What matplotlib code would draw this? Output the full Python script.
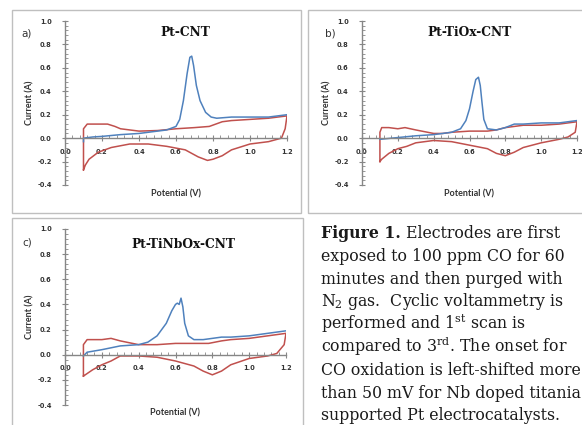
import numpy as np
import matplotlib
matplotlib.use("Agg")
import matplotlib.pyplot as plt
from matplotlib.ticker import MultipleLocator, FormatStrFormatter
from matplotlib.patches import Rectangle

W, H = 582, 425

# ---- data (potential V, current A) ----
# Pt-CNT
a_red_v = [0.10, 0.10, 0.12, 0.18, 0.23, 0.27, 0.30, 0.40, 0.50, 0.60, 0.70, 0.78, 0.85, 0.90, 1.00, 1.10, 1.20,
           1.19, 1.17, 1.10, 1.00, 0.90, 0.85, 0.80, 0.77, 0.72, 0.65, 0.55, 0.45, 0.35, 0.25, 0.18, 0.13, 0.11, 0.10]
a_red_i = [-0.27, 0.08, 0.12, 0.12, 0.12, 0.10, 0.08, 0.06, 0.065, 0.08, 0.09, 0.10, 0.14, 0.15, 0.16, 0.17, 0.19,
           0.08, 0.00, -0.03, -0.05, -0.10, -0.15, -0.18, -0.19, -0.16, -0.10, -0.07, -0.05, -0.05, -0.08, -0.12, -0.18, -0.23, -0.27]
a_blue_v = [0.10, 0.10, 0.15, 0.20, 0.30, 0.40, 0.50, 0.55, 0.60, 0.62, 0.64, 0.66, 0.675, 0.685, 0.695, 0.71, 0.73, 0.76, 0.79, 0.82, 0.90, 1.00, 1.10, 1.20]
a_blue_i = [-0.03, 0.00, 0.01, 0.015, 0.03, 0.04, 0.06, 0.07, 0.10, 0.16, 0.32, 0.55, 0.69, 0.70, 0.62, 0.45, 0.32, 0.22, 0.18, 0.17, 0.18, 0.18, 0.18, 0.20]

# Pt-TiOx-CNT
b_red_v = [0.10, 0.10, 0.11, 0.15, 0.20, 0.24, 0.30, 0.40, 0.45, 0.50, 0.60, 0.70, 0.75, 0.80, 0.85, 0.90, 1.00, 1.10, 1.20,
           1.19, 1.15, 1.10, 1.00, 0.90, 0.85, 0.80, 0.75, 0.70, 0.60, 0.50, 0.40, 0.30, 0.25, 0.20, 0.15, 0.11, 0.10]
b_red_i = [-0.20, 0.05, 0.09, 0.09, 0.08, 0.09, 0.07, 0.04, 0.04, 0.05, 0.06, 0.06, 0.07, 0.09, 0.10, 0.11, 0.11, 0.12, 0.14,
           0.05, 0.01, -0.01, -0.04, -0.08, -0.12, -0.15, -0.13, -0.09, -0.06, -0.03, -0.02, -0.04, -0.07, -0.09, -0.13, -0.18, -0.20]
b_blue_v = [0.10, 0.20, 0.30, 0.40, 0.50, 0.55, 0.58, 0.60, 0.62, 0.635, 0.65, 0.66, 0.67, 0.68, 0.70, 0.75, 0.80, 0.85, 0.90, 1.00, 1.10, 1.20]
b_blue_i = [-0.01, 0.005, 0.02, 0.03, 0.05, 0.08, 0.15, 0.25, 0.40, 0.50, 0.52, 0.45, 0.30, 0.16, 0.08, 0.07, 0.09, 0.12, 0.12, 0.13, 0.13, 0.15]

# Pt-TiNbOx-CNT
c_red_v = [0.10, 0.10, 0.12, 0.20, 0.25, 0.30, 0.40, 0.50, 0.60, 0.70, 0.78, 0.85, 0.90, 1.00, 1.10, 1.20,
           1.19, 1.15, 1.10, 1.00, 0.90, 0.85, 0.80, 0.75, 0.70, 0.60, 0.50, 0.40, 0.30, 0.25, 0.20, 0.15, 0.10]
c_red_i = [-0.17, 0.08, 0.12, 0.12, 0.13, 0.11, 0.08, 0.08, 0.09, 0.09, 0.09, 0.11, 0.12, 0.13, 0.15, 0.17,
           0.08, 0.01, -0.01, -0.03, -0.08, -0.13, -0.16, -0.13, -0.09, -0.05, -0.02, -0.01, -0.01, -0.05, -0.08, -0.12, -0.17]
c_blue_v = [0.10, 0.12, 0.20, 0.30, 0.40, 0.45, 0.50, 0.55, 0.58, 0.60, 0.61, 0.62, 0.63, 0.64, 0.65, 0.67, 0.70, 0.75, 0.80, 0.85, 0.90, 1.00, 1.10, 1.20]
c_blue_i = [-0.01, 0.02, 0.04, 0.07, 0.08, 0.10, 0.15, 0.25, 0.35, 0.40, 0.41, 0.40, 0.45, 0.38, 0.25, 0.15, 0.12, 0.12, 0.13, 0.14, 0.14, 0.15, 0.17, 0.19]

titles = ["Pt-CNT", "Pt-TiOx-CNT", "Pt-TiNbOx-CNT"]
letters = ["a)", "b)", "c)"]

caption = [
    "exposed to 100 ppm CO for 60",
    "minutes and then purged with",
    r"N$\mathregular{_2}$ gas.  Cyclic voltammetry is",
    r"performed and 1$\mathregular{^{st}}$ scan is",
    r"compared to 3$\mathregular{^{rd}}$. The onset for",
    "CO oxidation is left-shifted more",
    "than 50 mV for Nb doped titania",
    "supported Pt electrocatalysts.",
]

BLUE = "#4F81BD"
RED = "#C0504D"
GRAY = "#868686"
TXT = "#333333"

fig = plt.figure(figsize=(W / 100, H / 100), dpi=100)


def rect(l, t, r, b):
    # pixel box (from top-left) -> figure fraction
    return [l / W, 1 - b / H, (r - l) / W, (b - t) / H]


# panel borders
for l, t, r, b in [(12, 10, 301, 213), (308, 10, 590, 213), (12, 218, 303, 435)]:
    fig.patches.append(Rectangle((l / W, 1 - b / H), (r - l) / W, (b - t) / H,
                                 transform=fig.transFigure, fill=False,
                                 edgecolor="#BFBFBF", linewidth=1.0))

panels = [
    (rect(65, 21, 287, 185), a_blue_v, a_blue_i, a_red_v, a_red_i, (27, 33), (185, 33), 194),
    (rect(362, 21, 577, 185), b_blue_v, b_blue_i, b_red_v, b_red_i, (330, 33), (470, 33), 194),
    (rect(65, 229, 286, 405), c_blue_v, c_blue_i, c_red_v, c_red_i, (27, 242), (183, 244), 413),
]

for k, (pos, bv, bi, rv, ri, lpos, tpos, xl_y) in enumerate(panels):
    ax = fig.add_axes(pos)
    ax.patch.set_alpha(0)
    ax.plot(rv, ri, color=RED, lw=1.1)
    ax.plot(bv, bi, color=BLUE, lw=1.1)
    ax.set_xlim(0, 1.2)
    ax.set_ylim(-0.4, 1.0)
    for s in ["top", "right"]:
        ax.spines[s].set_visible(False)
    ax.spines["left"].set_position(("data", 0))
    ax.spines["bottom"].set_position(("data", 0))
    for s in ["left", "bottom"]:
        ax.spines[s].set_color(GRAY)
        ax.spines[s].set_linewidth(1.0)
    ax.xaxis.set_major_locator(MultipleLocator(0.2))
    ax.xaxis.set_minor_locator(MultipleLocator(0.04))
    ax.yaxis.set_major_locator(MultipleLocator(0.2))
    ax.yaxis.set_minor_locator(MultipleLocator(0.04))
    ax.xaxis.set_major_formatter(FormatStrFormatter("%.1f"))
    ax.yaxis.set_major_formatter(FormatStrFormatter("%.1f"))
    ax.tick_params(which="major", direction="inout", length=5, width=0.8, color=GRAY,
                   labelsize=4.8, labelcolor=TXT)
    ax.tick_params(which="minor", direction="in", length=2.5, width=0.6, color=GRAY)
    ax.tick_params(axis="y", pad=7)
    ax.tick_params(axis="x", pad=5)
    for lab in ax.get_xticklabels() + ax.get_yticklabels():
        lab.set_fontweight("bold")
        lab.set_family("DejaVu Sans")

    ax_h = pos[3] * H
    ax_bottom = (1 - pos[1]) * H
    ax.set_xlabel("Potential (V)", fontsize=6.5, fontweight="bold", family="Lato", color=TXT)
    ax.xaxis.set_label_coords(0.5, (ax_bottom - xl_y) / ax_h)
    ax.xaxis.label.set_va("center")
    ax.set_ylabel("Current (A)", fontsize=6.5, fontweight="bold", family="Lato", color=TXT)
    ax.yaxis.set_label_coords(-35 / (pos[2] * W), 0.5)
    ax.yaxis.label.set_va("center")

    fig.text(lpos[0] / W, 1 - lpos[1] / H, letters[k], fontsize=7.5, family="DejaVu Sans",
             color=TXT, ha="center", va="center")
    fig.text(tpos[0] / W, 1 - tpos[1] / H, titles[k], fontsize=8.8, family="DejaVu Serif",
             fontweight="bold", color="#111111", ha="center", va="center")

# caption
cap = fig.add_axes([0, 0, 1, 1])
cap.set_axis_off()
cap.patch.set_alpha(0)
FS = 11.3
x0 = 321 / W
y0 = 238
dy = 22.8
t1 = cap.text(x0, 1 - y0 / H, "Figure 1.", fontsize=FS, family="DejaVu Serif",
              fontweight="bold", color="#1a1a1a", va="baseline")
cap.annotate(" Electrodes are first", xy=(1, 0), xycoords=t1, fontsize=FS,
             family="DejaVu Serif", color="#1a1a1a", va="bottom", ha="left")
for i, line in enumerate(caption):
    cap.text(x0, 1 - (y0 + dy * (i + 1)) / H, line, fontsize=FS,
             family="DejaVu Serif", color="#1a1a1a", va="baseline")

fig.savefig("out.png", dpi=100)
